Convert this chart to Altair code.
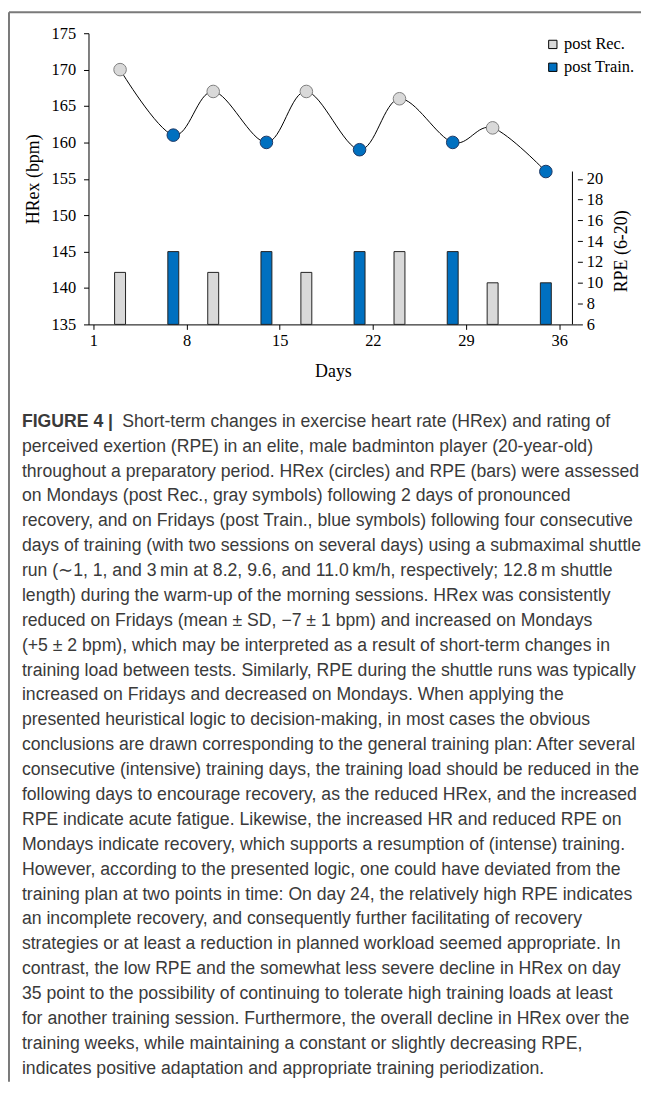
import altair as alt
import pandas as pd

# ---- data ----
days = [3, 7, 10, 14, 17, 21, 24, 28, 31, 35]
hrex = [170, 161, 167, 160, 167, 159, 166, 160, 162, 156]
rpe = [11, 13, 11, 13, 11, 13, 13, 13, 10, 10]
group = ["post Rec.", "post Train.", "post Rec.", "post Train.", "post Rec.",
         "post Train.", "post Rec.", "post Train.", "post Rec.", "post Train."]
groups = ["post Rec.", "post Train."]
x_ticks = [1, 8, 15, 22, 29, 36]
hr_ticks = [135, 140, 145, 150, 155, 160, 165, 170, 175]
rpe_ticks = [6, 8, 10, 12, 14, 16, 18, 20]

caption_bold = "FIGURE 4 |"
caption_lines = [
    "Short-term changes in exercise heart rate (HRex) and rating of",
    "perceived exertion (RPE) in an elite, male badminton player (20-year-old)",
    "throughout a preparatory period. HRex (circles) and RPE (bars) were assessed",
    "on Mondays (post Rec., gray symbols) following 2 days of pronounced",
    "recovery, and on Fridays (post Train., blue symbols) following four consecutive",
    "days of training (with two sessions on several days) using a submaximal shuttle",
    "run (\u223c1, 1, and 3\u2009min at 8.2, 9.6, and 11.0\u2009km/h, respectively; 12.8\u2009m shuttle",
    "length) during the warm-up of the morning sessions. HRex was consistently",
    "reduced on Fridays (mean \u00b1 SD, \u22127 \u00b1 1 bpm) and increased on Mondays",
    "(+5 \u00b1 2 bpm), which may be interpreted as a result of short-term changes in",
    "training load between tests. Similarly, RPE during the shuttle runs was typically",
    "increased on Fridays and decreased on Mondays. When applying the",
    "presented heuristical logic to decision-making, in most cases the obvious",
    "conclusions are drawn corresponding to the general training plan: After several",
    "consecutive (intensive) training days, the training load should be reduced in the",
    "following days to encourage recovery, as the reduced HRex, and the increased",
    "RPE indicate acute fatigue. Likewise, the increased HR and reduced RPE on",
    "Mondays indicate recovery, which supports a resumption of (intense) training.",
    "However, according to the presented logic, one could have deviated from the",
    "training plan at two points in time: On day 24, the relatively high RPE indicates",
    "an incomplete recovery, and consequently further facilitating of recovery",
    "strategies or at least a reduction in planned workload seemed appropriate. In",
    "contrast, the low RPE and the somewhat less severe decline in HRex on day",
    "35 point to the possibility of continuing to tolerate high training loads at least",
    "for another training session. Furthermore, the overall decline in HRex over the",
    "training weeks, while maintaining a constant or slightly decreasing RPE,",
    "indicates positive adaptation and appropriate training periodization.",
]

df = pd.DataFrame({"day": days, "hrex": hrex, "rpe": rpe, "group": group})
cap = pd.DataFrame({"line": list(range(len(caption_lines))), "text": caption_lines})
one = pd.DataFrame({"a": [0]})

SERIF = "Liberation Serif"
SANS = "Liberation Sans"
W, H = 492, 293

xscale = alt.Scale(domain=[1, 37], nice=False, zero=False)
xaxis = alt.Axis(values=x_ticks, title="Days", grid=False, tickSize=5,
                 labelFont=SERIF, labelFontSize=16.5, labelColor="black",
                 labelPadding=3, titleFont=SERIF, titleFontSize=18,
                 titleFontWeight="normal", titleColor="black", titlePadding=14,
                 domainColor="black", tickColor="black", labelFlush=False)
X = alt.X("day:Q", scale=xscale, axis=xaxis)

fill_scale = alt.Scale(domain=groups, range=["#d9d9d9", "#0070c0"])
hr_scale = alt.Scale(domain=[135, 175], nice=False, zero=False)
rpe_scale = alt.Scale(domain=[6, 34], nice=False, zero=False)
cap_scale = alt.Scale(domain=[0, 26], range=[396, 1047], nice=False, zero=False)

# ---- frame (decorative border of the figure panel) ----
frame_top = alt.Chart(one).mark_rule(color="#7a7a7a", strokeWidth=2).encode(
    x=alt.value(-80), x2=alt.value(556), y=alt.value(-21))
frame_left = alt.Chart(one).mark_rule(color="#7a7a7a", strokeWidth=2).encode(
    x=alt.value(-80), y=alt.value(-21), y2=alt.value(1055))

# ---- RPE bars (right axis) ----
bars = alt.Chart(df).mark_bar(size=11, stroke="#222222", strokeWidth=1).encode(
    x=X,
    y=alt.Y("rpe:Q", scale=rpe_scale,
            axis=alt.Axis(orient="right", values=rpe_ticks, title="RPE (6-20)", grid=False,
                          domain=False, tickSize=5, labelFont=SERIF, labelFontSize=16.5,
                          labelColor="black", labelPadding=4, titleFont=SERIF,
                          titleFontSize=18, titleFontWeight="normal", titleColor="black",
                          titleAngle=270, titleX=44, titleY=219, titleBaseline="middle",
                          titleAlign="center", tickColor="black")),
    y2=alt.datum(6),
    fill=alt.Fill("group:N", scale=fill_scale,
                  legend=alt.Legend(orient="none", legendX=459, legendY=3, title=None,
                                    symbolType="square", symbolSize=70,
                                    symbolStrokeColor="black", symbolStrokeWidth=1,
                                    symbolOpacity=1,
                                    labelFont=SERIF, labelFontSize=16.5, labelColor="black",
                                    labelOffset=3, rowPadding=6)))

rpe_axis_line = alt.Chart(one).mark_rule(color="black", strokeWidth=1).encode(
    x=alt.datum(37), y=alt.datum(6, scale=rpe_scale, axis=None), y2=alt.datum(20.7))

# ---- HRex line + points (left axis) ----
line = alt.Chart(df).mark_line(interpolate="cardinal", color="black", strokeWidth=1).encode(
    x=X, y=alt.Y("hrex:Q", scale=hr_scale, axis=None))

pts = alt.Chart(df).mark_circle(size=160, opacity=1, strokeWidth=1).encode(
    x=X,
    y=alt.Y("hrex:Q", scale=hr_scale,
            axis=alt.Axis(values=hr_ticks, title="HRex (bpm)", grid=False, tickSize=5,
                          labelFont=SERIF, labelFontSize=16.5, labelColor="black",
                          labelPadding=8, titleFont=SERIF, titleFontSize=18,
                          titleFontWeight="normal", titleColor="black",
                          titleX=-55, titleY=146.5, titleBaseline="middle",
                          titleAlign="center", orient="left",
                          domainColor="black", tickColor="black")),
    fill=alt.Fill("group:N", scale=fill_scale, legend=None),
    stroke=alt.Stroke("group:N", scale=alt.Scale(domain=groups, range=["#7f7f7f", "#1f3864"]),
                      legend=None))

# ---- caption ----
text_style = dict(align="left", baseline="alphabetic", font=SANS, fontSize=17.75, color="#3a3a3a")
cap_text = alt.Chart(cap).transform_filter(alt.datum.line > 0).mark_text(**text_style).encode(
    x=alt.value(-67), y=alt.Y("line:Q", scale=cap_scale, axis=None), text="text:N")
cap_first = alt.Chart(cap).transform_filter(alt.datum.line == 0).mark_text(**text_style).encode(
    x=alt.value(34), y=alt.Y("line:Q", scale=cap_scale, axis=None), text="text:N")
cap_bold = alt.Chart(cap).transform_filter(alt.datum.line == 0).transform_calculate(
    label=f"'{caption_bold}'").mark_text(fontWeight="bold", **text_style).encode(
    x=alt.value(-67), y=alt.Y("line:Q", scale=cap_scale, axis=None), text="label:N")

chart = alt.layer(frame_top, frame_left, bars, rpe_axis_line, line, pts,
                  cap_text, cap_first, cap_bold).resolve_scale(
    y="independent", fill="shared", stroke="independent").properties(
    width=W, height=H,
    autosize=alt.AutoSizeParams(type="none"),
    padding={"left": 81, "top": 22, "right": 67, "bottom": 762},
).configure_view(stroke=None)

chart.save("out.html", embed_options={"renderer": "svg", "actions": False})
